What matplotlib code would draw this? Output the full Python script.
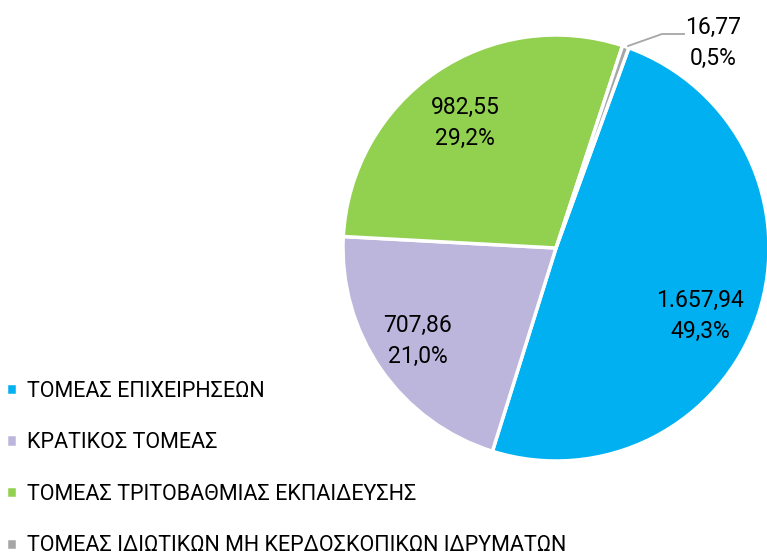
import matplotlib.pyplot as plt

# data
sectors = ["ΤΟΜΕΑΣ ΕΠΙΧΕΙΡΗΣΕΩΝ", "ΚΡΑΤΙΚΟΣ ΤΟΜΕΑΣ",
           "ΤΟΜΕΑΣ ΤΡΙΤΟΒΑΘΜΙΑΣ ΕΚΠΑΙΔΕΥΣΗΣ",
           "ΤΟΜΕΑΣ ΙΔΙΩΤΙΚΩΝ ΜΗ ΚΕΡΔΟΣΚΟΠΙΚΩΝ ΙΔΡΥΜΑΤΩΝ"]
values = [1657.94, 707.86, 982.55, 16.77]
value_labels = ["1.657,94", "707,86", "982,55", "16,77"]
pct_labels = ["49,3%", "21,0%", "29,2%", "0,5%"]
colors = ["#00B0F0", "#BDB6DC", "#92D050", "#A6A6A6"]

plt.rcParams['font.family'] = ['Roboto', 'DejaVu Sans']

fig = plt.figure(figsize=(7.67, 5.6), dpi=100)
W, H = 767, 560
cx, cy, r = 556, 248, 213
ax = fig.add_axes([(cx - r) / W, 1 - (cy + r) / H, 2 * r / W, 2 * r / H])

wedges, _ = ax.pie(values, colors=colors, startangle=70, counterclock=False,
                   radius=1, wedgeprops=dict(edgecolor="white", linewidth=2.5))
ax.set_xlim(-1, 1)
ax.set_ylim(-1, 1)
ax.set_aspect("equal")
ax.axis("off")

# data labels (placed in pixel terms relative to the pie)
label_pos = [(700, 316), (418, 341), (465, 123), (713, 43)]
for i, (px, py) in enumerate(label_pos):
    x = (px - cx) / r
    y = (cy - py) / r
    ax.text(x, y, value_labels[i] + "\n" + pct_labels[i], ha="center", va="center",
            fontsize=16.5, linespacing=1.45, color="black")

# leader line for the small slice
pts = [(628, 46), (662, 34), (684, 34)]
ax.plot([(p[0] - cx) / r for p in pts], [(cy - p[1]) / r for p in pts],
        color="#A6A6A6", lw=1.3, clip_on=False)

fig.legend(wedges, sectors, loc="upper left", bbox_to_anchor=(-0.003, 1 - 372 / H),
           frameon=False, fontsize=15.5, handlelength=0.5, handleheight=0.5,
           handletextpad=0.45, labelspacing=1.42, borderaxespad=0)

fig.savefig("out.png", dpi=100)
